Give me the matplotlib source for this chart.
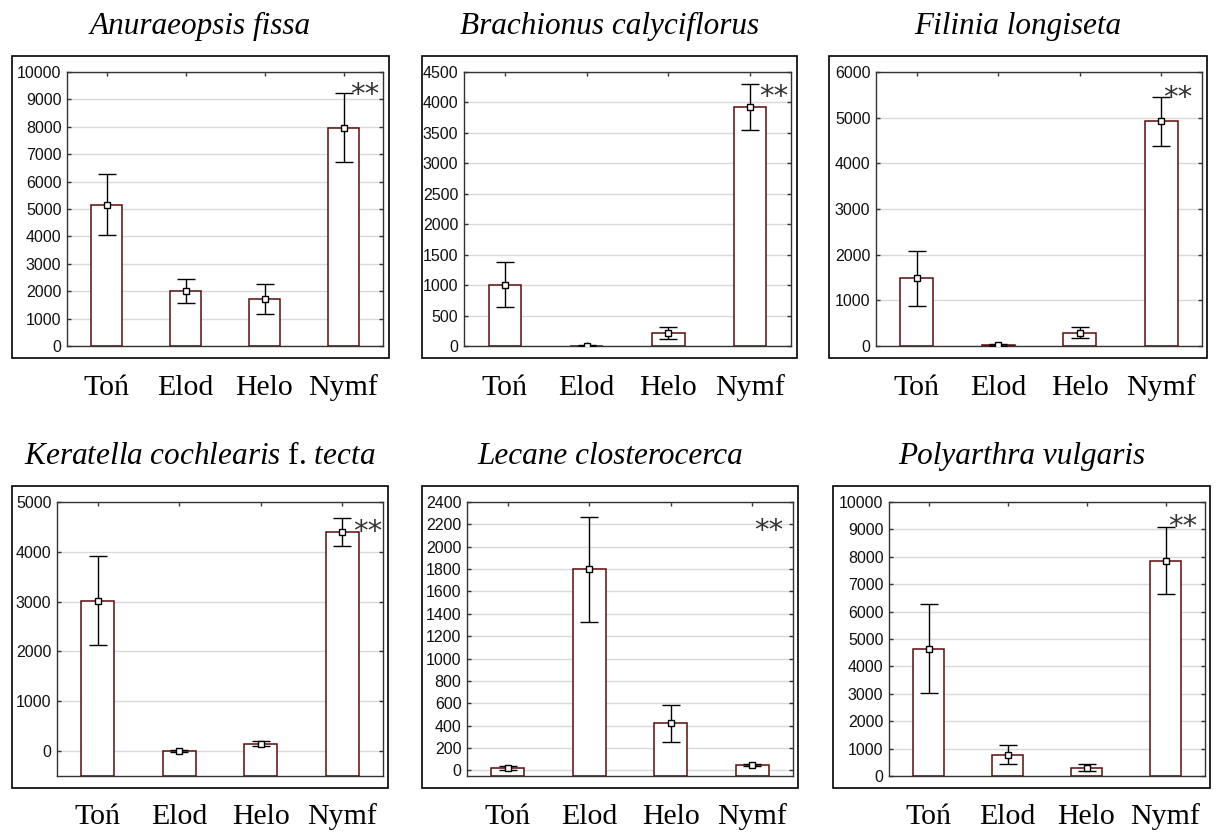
import matplotlib
matplotlib.use("Agg")
import matplotlib.pyplot as plt
from matplotlib.patches import Rectangle
from matplotlib.transforms import blended_transform_factory

plt.rcParams["mathtext.fontset"] = "custom"
plt.rcParams["mathtext.it"] = "Liberation Serif:italic"
plt.rcParams["mathtext.rm"] = "Liberation Serif"

W, H = 1216, 832

habitats = ["Toń", "Elod", "Helo", "Nymf"]

titles = [
    "Anuraeopsis fissa",
    "Brachionus calyciflorus",
    "Filinia longiseta",
    r"$\mathit{Keratella\ cochlearis}$ f. $\mathit{tecta}$",
    "Lecane closterocerca",
    "Polyarthra vulgaris",
]

# means and error bar limits (lower, upper)
anur_mean = [5150, 2020, 1720, 7960]
anur_low = [4050, 1580, 1180, 6720]
anur_high = [6280, 2460, 2270, 9220]

brach_mean = [1010, 5, 220, 3920]
brach_low = [640, 0, 120, 3540]
brach_high = [1380, 10, 310, 4310]

filin_mean = [1480, 20, 290, 4920]
filin_low = [870, 5, 180, 4390]
filin_high = [2090, 35, 420, 5450]

kerat_mean = [3020, 0, 150, 4390]
kerat_low = [2130, -20, 100, 4120]
kerat_high = [3920, 20, 200, 4680]

lecan_mean = [20, 1800, 420, 45]
lecan_low = [5, 1330, 250, 35]
lecan_high = [35, 2270, 585, 55]

polya_mean = [4630, 760, 310, 7850]
polya_low = [3030, 420, 190, 6650]
polya_high = [6280, 1120, 440, 9090]

means = [anur_mean, brach_mean, filin_mean, kerat_mean, lecan_mean, polya_mean]
lows = [anur_low, brach_low, filin_low, kerat_low, lecan_low, polya_low]
highs = [anur_high, brach_high, filin_high, kerat_high, lecan_high, polya_high]

ylims = [(0, 10000), (0, 4500), (0, 6000), (-500, 5000), (-50, 2400), (0, 10000)]
ysteps = [1000, 500, 1000, 1000, 200, 1000]

# layout in pixels: outer frame and inner axes (x0, x1, y0, y1)
frames = [(12, 389, 56, 358), (422, 797, 56, 358), (829, 1207, 56, 358),
          (12, 388, 486, 788), (422, 798, 486, 788), (833, 1210, 486, 788)]
axes_px = [(67, 383, 72, 346), (464, 791, 72, 346), (876, 1202, 72, 346),
           (57, 383, 502, 776), (467, 793, 502, 776), (889, 1205, 502, 776)]
star_pos = [(0.943, 0.915), (0.947, 0.91), (0.927, 0.905),
            (0.952, 0.89), (0.926, 0.895), (0.93, 0.91)]

fig = plt.figure(figsize=(W / 100, H / 100), dpi=100)

for i in range(6):
    fx0, fx1, fy0, fy1 = frames[i]
    fig.patches.append(Rectangle((fx0 / W, 1 - fy1 / H), (fx1 - fx0) / W, (fy1 - fy0) / H,
                                 transform=fig.transFigure, fill=False,
                                 edgecolor="black", linewidth=1.2))
    ax0, ax1, ay0, ay1 = axes_px[i]
    ax = fig.add_axes([ax0 / W, 1 - ay1 / H, (ax1 - ax0) / W, (ay1 - ay0) / H])

    x = list(range(4))
    base = ylims[i][0]
    m = means[i]
    err_lo = [m[k] - lows[i][k] for k in x]
    err_hi = [highs[i][k] - m[k] for k in x]

    ax.bar(x, [v - base for v in m], bottom=base, width=0.4, color="white",
           edgecolor="#5c0a0a", linewidth=1.1, zorder=2)
    ax.errorbar(x, m, yerr=[err_lo, err_hi], fmt="s", color="black",
                markerfacecolor="white", markeredgecolor="black", markersize=4,
                markeredgewidth=1, ecolor="black", elinewidth=1, capsize=6.5,
                capthick=1, zorder=3)

    ax.set_xlim(-0.5, 3.5)
    ax.set_ylim(*ylims[i])
    ax.set_yticks(range(0, ylims[i][1] + 1, ysteps[i]))
    ax.set_xticks(x)
    ax.set_xticklabels([])
    ax.grid(axis="y", color="#d9d9d9", linewidth=1, zorder=0)
    ax.set_axisbelow(True)
    ax.tick_params(direction="in", length=3, width=1, top=True, right=True,
                   colors="#333333", labelcolor="#111111", pad=4)
    for lab in ax.get_yticklabels():
        lab.set_fontfamily("Liberation Sans")
        lab.set_fontsize(11.5)
    for sp in ax.spines.values():
        sp.set_color("#333333")
        sp.set_linewidth(1)

    ax.text(star_pos[i][0], star_pos[i][1], "**", transform=ax.transAxes,
            ha="center", va="center", fontsize=21, color="#333333",
            fontfamily="DejaVu Sans", zorder=4)

    # category labels below the outer frame
    trans = blended_transform_factory(ax.transData, fig.transFigure)
    base_y = 395 if i < 3 else 824
    for k, name in enumerate(habitats):
        ax.text(k, 1 - base_y / H, name, transform=trans, ha="center",
                va="baseline", fontsize=21.5, fontfamily="Liberation Serif")

    # title above the frame
    title_y = 34 if i < 3 else 464
    style = "normal" if i == 3 else "italic"
    fig.text((fx0 + fx1) / 2 / W, 1 - title_y / H, titles[i], ha="center",
             va="baseline", fontsize=22.5, fontfamily="Liberation Serif",
             fontstyle=style)

fig.savefig("out.png", dpi=100)
